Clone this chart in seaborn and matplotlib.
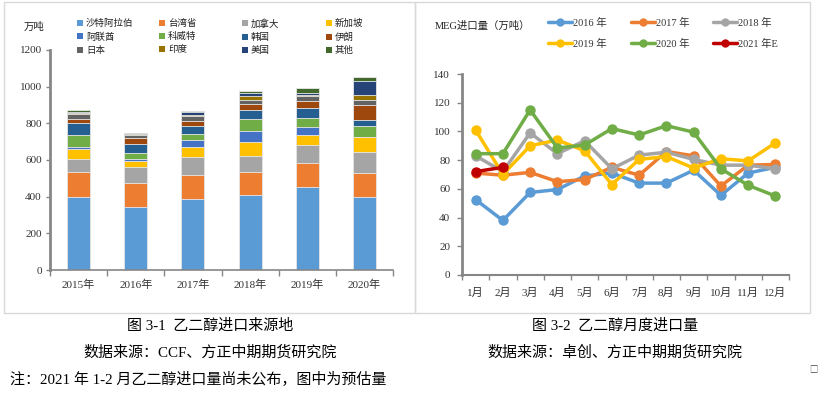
import numpy as np
import matplotlib
matplotlib.use("Agg")
import matplotlib.pyplot as plt
from matplotlib.patches import Patch, Rectangle
from matplotlib.lines import Line2D
import seaborn as sns

# ---- data: import sources (万吨) ----
years = ['2015年', '2016年', '2017年', '2018年', '2019年', '2020年']
sources = ['沙特阿拉伯', '台湾省', '加拿大', '新加坡', '阿联酋', '科威特',
           '韩国', '伊朗', '日本', '印度', '美国', '其他']
saudi = [397, 343, 386, 407, 451, 400]
taiwan = [139, 130, 134, 126, 131, 127]
canada = [68, 91, 94, 91, 98, 115]
singapore = [58, 32, 57, 76, 58, 82]
uae = [9, 8, 40, 60, 40, 3]
kuwait = [65, 36, 33, 62, 51, 58]
korea = [64, 45, 43, 52, 56, 33]
iran = [22, 33, 24, 30, 35, 82]
japan = [29, 18, 29, 23, 27, 27]
india = [5, 5, 5, 20, 5, 27]
usa = [8, 4, 17, 17, 13, 77]
other = [8, 2, 7, 12, 26, 20]

# ---- data: monthly MEG imports (万吨) ----
months = ['1月', '2月', '3月', '4月', '5月', '6月', '7月', '8月', '9月', '10月', '11月', '12月']
series_names = ['2016 年', '2017 年', '2018 年', '2019 年', '2020 年', '2021 年E']
m2016 = [52.5, 38, 57.5, 59.5, 69, 71, 64, 64, 73, 55.5, 71, 75]
m2017 = [71, 69.5, 71.5, 65, 66.5, 75, 69.5, 86, 83, 62, 76.5, 77]
m2018 = [83, 72, 99, 84.5, 93.5, 74, 83.5, 85.5, 80.5, 76.5, 76.5, 74]
m2019 = [101, 70, 90, 94, 86.5, 63, 80.5, 82.5, 74.5, 81, 79.5, 92]
m2020 = [84.5, 84.5, 115, 88.5, 90.5, 102, 97.5, 104, 99.5, 74, 62.5, 55]
m2021 = [72, 75]

bar_colors = ['#5B9BD5', '#ED7D31', '#A5A5A5', '#FFC000', '#4472C4', '#70AD47',
              '#255E91', '#9E480E', '#636363', '#997300', '#264478', '#43682B']
line_colors = ['#5B9BD5', '#ED7D31', '#A5A5A5', '#FFC000', '#70AD47', '#C00000']

sns.set_theme(style='white')
plt.rcParams['font.family'] = ['Liberation Serif', 'Noto Sans CJK SC']
plt.rcParams['axes.unicode_minus'] = False

W, H = 823, 397
fig = plt.figure(figsize=(W / 100, H / 100), dpi=100)


def fx(px):
    return px / W


def fy(py):
    return 1 - py / H


axis_gray = '#868686'

# ---- left: stacked bars ----
ax1 = fig.add_axes([fx(50), fy(270), fx(343), (270 - 50) / H])
stack = np.vstack([saudi, taiwan, canada, singapore, uae, kuwait,
                   korea, iran, japan, india, usa, other])
cum = np.cumsum(stack, axis=0)
# draw cumulative totals from the top down so each segment shows
for i in range(len(sources) - 1, -1, -1):
    sns.barplot(x=years, y=cum[i], color=bar_colors[i], width=0.4, saturation=1,
                edgecolor='#e8e8e8', linewidth=0.6, ax=ax1)
ax1.set_ylim(0, 1200)
ax1.set_xlim(-0.5, 5.5)
ax1.set_yticks(range(0, 1201, 200))
ax1.set_xticks(range(6))
ax1.set_xticklabels(years)
ax1.set_xticks(np.arange(-0.5, 6, 1), minor=True)
ax1.tick_params(axis='x', which='major', length=0, pad=7, labelsize=8, colors='#333333')
ax1.tick_params(axis='x', which='minor', length=4, width=1, color=axis_gray, direction='out', bottom=True)
ax1.tick_params(axis='y', length=3, width=1, color=axis_gray, direction='out', left=True,
                pad=3, labelsize=8, labelcolor='#333333')
ax1.set_xlabel('')
ax1.set_ylabel('')
for s in ['top', 'right']:
    ax1.spines[s].set_visible(False)
ax1.spines['left'].set_color(axis_gray)
ax1.spines['left'].set_linewidth(2)
ax1.spines['bottom'].set_color(axis_gray)
ax1.spines['bottom'].set_linewidth(1.2)
fig.text(fx(24), fy(27), '万吨', fontsize=7.5, va='center', ha='left', color='#222222')

handles = [Patch(facecolor=c, edgecolor='none') for c in bar_colors]
for col, xpx in enumerate([77, 159, 242, 326]):
    idx = [col, col + 4, col + 8]
    lg = fig.legend([handles[i] for i in idx], [sources[i] for i in idx],
                    loc='upper left', bbox_to_anchor=(fx(xpx), fy(19)),
                    frameon=False, fontsize=6.8, handlelength=0.6, handleheight=0.6,
                    handletextpad=0.35, labelspacing=0.45, borderpad=0, borderaxespad=0)
    for t in lg.get_texts():
        t.set_color('#222222')

# ---- right: monthly lines ----
ax2 = fig.add_axes([fx(462), fy(275), fx(327), (275 - 74) / H])
all_series = [m2016, m2017, m2018, m2019, m2020, m2021]
for vals, c in zip(all_series, line_colors):
    sns.lineplot(x=np.arange(len(vals)), y=vals, color=c, marker='o', markersize=7.5,
                 markeredgewidth=0, linewidth=2.5, ax=ax2)
ax2.set_ylim(0, 140)
ax2.set_xlim(-0.5, 11.5)
ax2.set_yticks(range(0, 141, 20))
ax2.set_xticks(range(12))
ax2.set_xticklabels(months)
ax2.set_xticks(np.arange(-0.5, 12, 1), minor=True)
ax2.tick_params(axis='x', which='major', length=0, pad=9, labelsize=8, colors='#333333')
ax2.tick_params(axis='x', which='minor', length=3.5, width=1, color=axis_gray, direction='out', bottom=True)
ax2.tick_params(axis='y', length=3.5, width=1, color=axis_gray, direction='out', left=True,
                pad=5, labelsize=8, labelcolor='#333333')
ax2.set_xlabel('')
ax2.set_ylabel('')
for s in ['top', 'right']:
    ax2.spines[s].set_visible(False)
ax2.spines['left'].set_color(axis_gray)
ax2.spines['left'].set_linewidth(2)
ax2.spines['bottom'].set_color(axis_gray)
ax2.spines['bottom'].set_linewidth(1.5)
fig.text(fx(435), fy(26), 'MEG进口量（万吨）', fontsize=7.5, va='center', ha='left', color='#222222')

line_handles = [Line2D([], [], color=c, marker='o', markersize=6, markeredgewidth=0, linewidth=2.5)
                for c in line_colors]
for col, xpx in enumerate([548, 631, 713]):
    idx = [col, col + 3]
    lg = fig.legend([line_handles[i] for i in idx], [series_names[i] for i in idx],
                    loc='upper left', bbox_to_anchor=(fx(xpx), fy(18)),
                    frameon=False, fontsize=7.5, handlelength=2.3, handletextpad=0.1,
                    labelspacing=1.0, borderpad=0, borderaxespad=0, numpoints=1)
    for t in lg.get_texts():
        t.set_color('#333333')

# ---- panel frames ----
fig.add_artist(Rectangle((fx(4), fy(313)), fx(411), (313 - 2) / H, transform=fig.transFigure,
                         fill=False, edgecolor='#d9d9d9', linewidth=1))
fig.add_artist(Rectangle((fx(415), fy(313)), fx(395), (313 - 2) / H, transform=fig.transFigure,
                         fill=False, edgecolor='#d9d9d9', linewidth=1))

# ---- captions ----
cap = dict(fontsize=10.8, color='#000000', va='center')
fig.text(fx(210), fy(326), '图 3-1  乙二醇进口来源地', ha='center', **cap)
fig.text(fx(210), fy(352), '数据来源：CCF、方正中期期货研究院', ha='center', **cap)
fig.text(fx(10), fy(379), '注：2021 年 1-2 月乙二醇进口量尚未公布，图中为预估量', ha='left', **cap)
fig.text(fx(615), fy(326), '图 3-2  乙二醇月度进口量', ha='center', **cap)
fig.text(fx(615), fy(352), '数据来源：卓创、方正中期期货研究院', ha='center', **cap)
fig.text(fx(813), fy(369), '□', ha='center', fontsize=6, color='#444444', va='center',
         family=['Noto Sans CJK SC', 'DejaVu Sans'])

fig.savefig('out.png', dpi=100)
